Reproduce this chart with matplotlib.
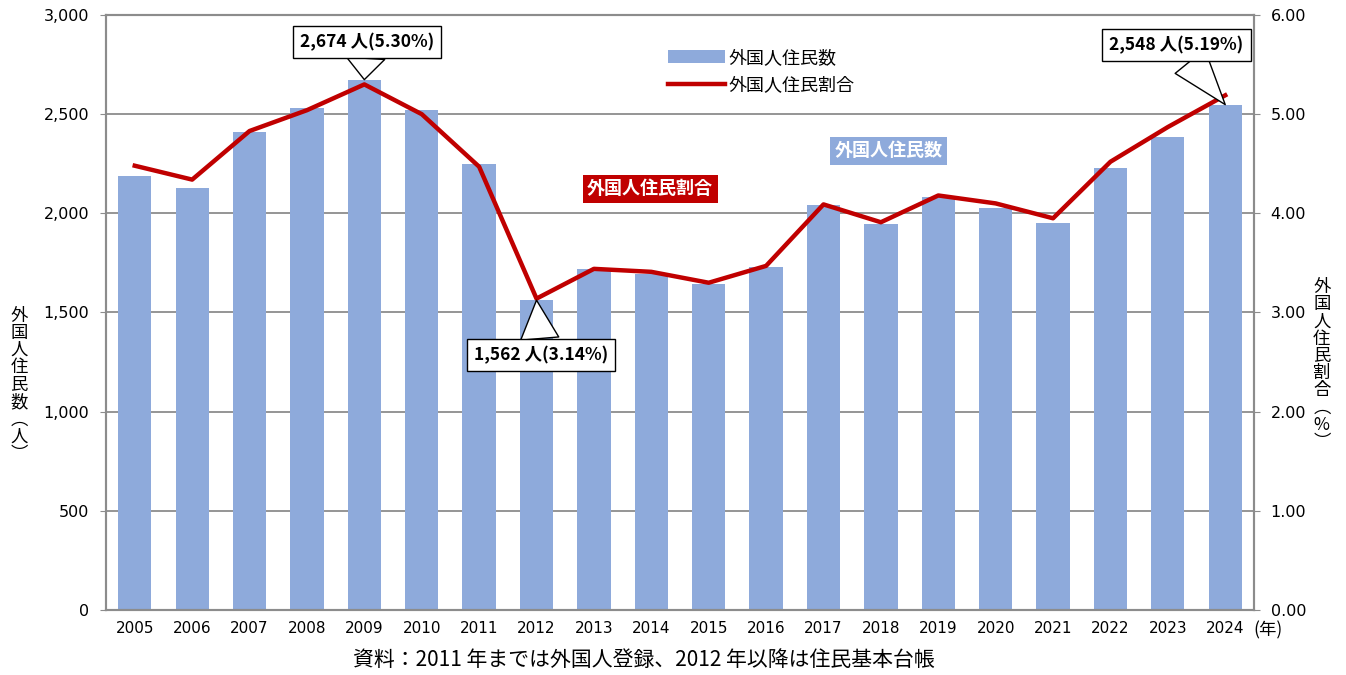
import numpy as np
import matplotlib
matplotlib.use("Agg")
import matplotlib.pyplot as plt

plt.rcParams['font.family'] = ['Noto Sans CJK JP', 'DejaVu Sans']

years = [2005, 2006, 2007, 2008, 2009, 2010, 2011, 2012, 2013, 2014,
         2015, 2016, 2017, 2018, 2019, 2020, 2021, 2022, 2023, 2024]
residents = [2190, 2128, 2410, 2531, 2674, 2521, 2249, 1562, 1720, 1694,
             1644, 1730, 2042, 1946, 2083, 2027, 1951, 2229, 2385, 2548]
ratio = [4.48, 4.34, 4.83, 5.04, 5.30, 5.00, 4.47, 3.14, 3.44, 3.41,
         3.30, 3.47, 4.09, 3.91, 4.18, 4.10, 3.95, 4.52, 4.87, 5.19]
left_ticks = [0, 500, 1000, 1500, 2000, 2500, 3000]
right_ticks = [0, 1, 2, 3, 4, 5, 6]

bar_color = "#8eaadb"
line_color = "#c00000"
grid_color = "#8c8c8c"

fig = plt.figure(figsize=(13.46, 6.75), dpi=100)
ax = fig.add_axes([0.0788, 0.0963, 0.8528, 0.8815])
ax2 = ax.twinx()

x = np.arange(len(years))
ax.bar(x, residents, width=0.58, color=bar_color, zorder=2, label="外国人住民数")
ax.set_xlim(-0.5, len(years) - 0.5)
ax.set_ylim(0, 3000)
ax.set_yticks(left_ticks)
ax.set_yticklabels([f"{v:,}" for v in left_ticks], fontsize=11.5, family=['DejaVu Sans'])
ax.set_xticks(x)
ax.set_xticklabels([str(y) for y in years], fontsize=11, family=['DejaVu Sans'])
ax.grid(axis="y", color=grid_color, lw=1.3, zorder=0)
ax.set_axisbelow(True)
ax.tick_params(axis="x", length=0, pad=8)
ax.tick_params(axis="y", length=4, direction="out", color=grid_color, pad=8)

ax2.plot(x, ratio, color=line_color, lw=3.2, zorder=3, label="外国人住民割合")
ax2.set_ylim(0, 6)
ax2.set_yticks(right_ticks)
ax2.set_yticklabels([f"{v:.2f}" for v in right_ticks], fontsize=11.5, family=['DejaVu Sans'])
ax2.tick_params(axis="y", length=4, direction="out", color=grid_color, pad=8)

for a in (ax, ax2):
    for s in a.spines.values():
        s.set_color(grid_color)
        s.set_linewidth(1.5)

# legend
h1, l1 = ax.get_legend_handles_labels()
h2, l2 = ax2.get_legend_handles_labels()
leg = ax2.legend(h1 + h2, l1 + l2, loc="upper left", bbox_to_anchor=(0.475, 0.97),
                 frameon=False, fontsize=13, handlelength=3.2, handletextpad=0.2,
                 labelspacing=0.5)

# axis titles (vertical text)
fig.text(0.014, 0.43, "\n".join("外国人住民数︵人︶"), fontsize=12.5, ha="center",
         va="center", linespacing=0.95)
fig.text(0.982, 0.46, "\n".join("外国人住民割合︵%︶"), fontsize=12.5, ha="center",
         va="center", linespacing=0.95)
fig.text(0.942, 0.066, "(年)", fontsize=12.5, ha="center", va="center")
fig.text(0.478, 0.022, "資料：2011 年までは外国人登録、2012 年以降は住民基本台帳",
         fontsize=15, ha="center", va="center")

# series labels
ax2.text(13.14, 4.63, "外国人住民数", fontsize=13, color="white", weight="bold",
         ha="center", va="center",
         bbox=dict(boxstyle="square,pad=0.25", fc=bar_color, ec="none"))
ax2.text(8.98, 4.25, "外国人住民割合", fontsize=13, color="white", weight="bold",
         ha="center", va="center",
         bbox=dict(boxstyle="square,pad=0.25", fc=line_color, ec="none"))

# callouts
callouts = [(4, 2674, 5.30, (4.04, 5.73)), (7, 1562, 3.14, (7.08, 2.57)),
            (19, 2548, 5.19, (18.15, 5.70))]
for i, n, r, (tx, ty) in callouts:
    yv = n / 500.0
    ax2.annotate(f"{n:,} 人({r:.2f}%)", xy=(i, yv), xytext=(tx, ty),
                 fontsize=12.5, weight="bold", ha="center", va="center", zorder=6,
                 bbox=dict(boxstyle="square,pad=0.4", fc="white", ec="black", lw=1),
                 arrowprops=dict(arrowstyle="wedge,tail_width=2.2,shrink_factor=0.5",
                                 fc="white", ec="black", lw=1, shrinkA=0, shrinkB=0))

fig.savefig("out.png", dpi=100)
